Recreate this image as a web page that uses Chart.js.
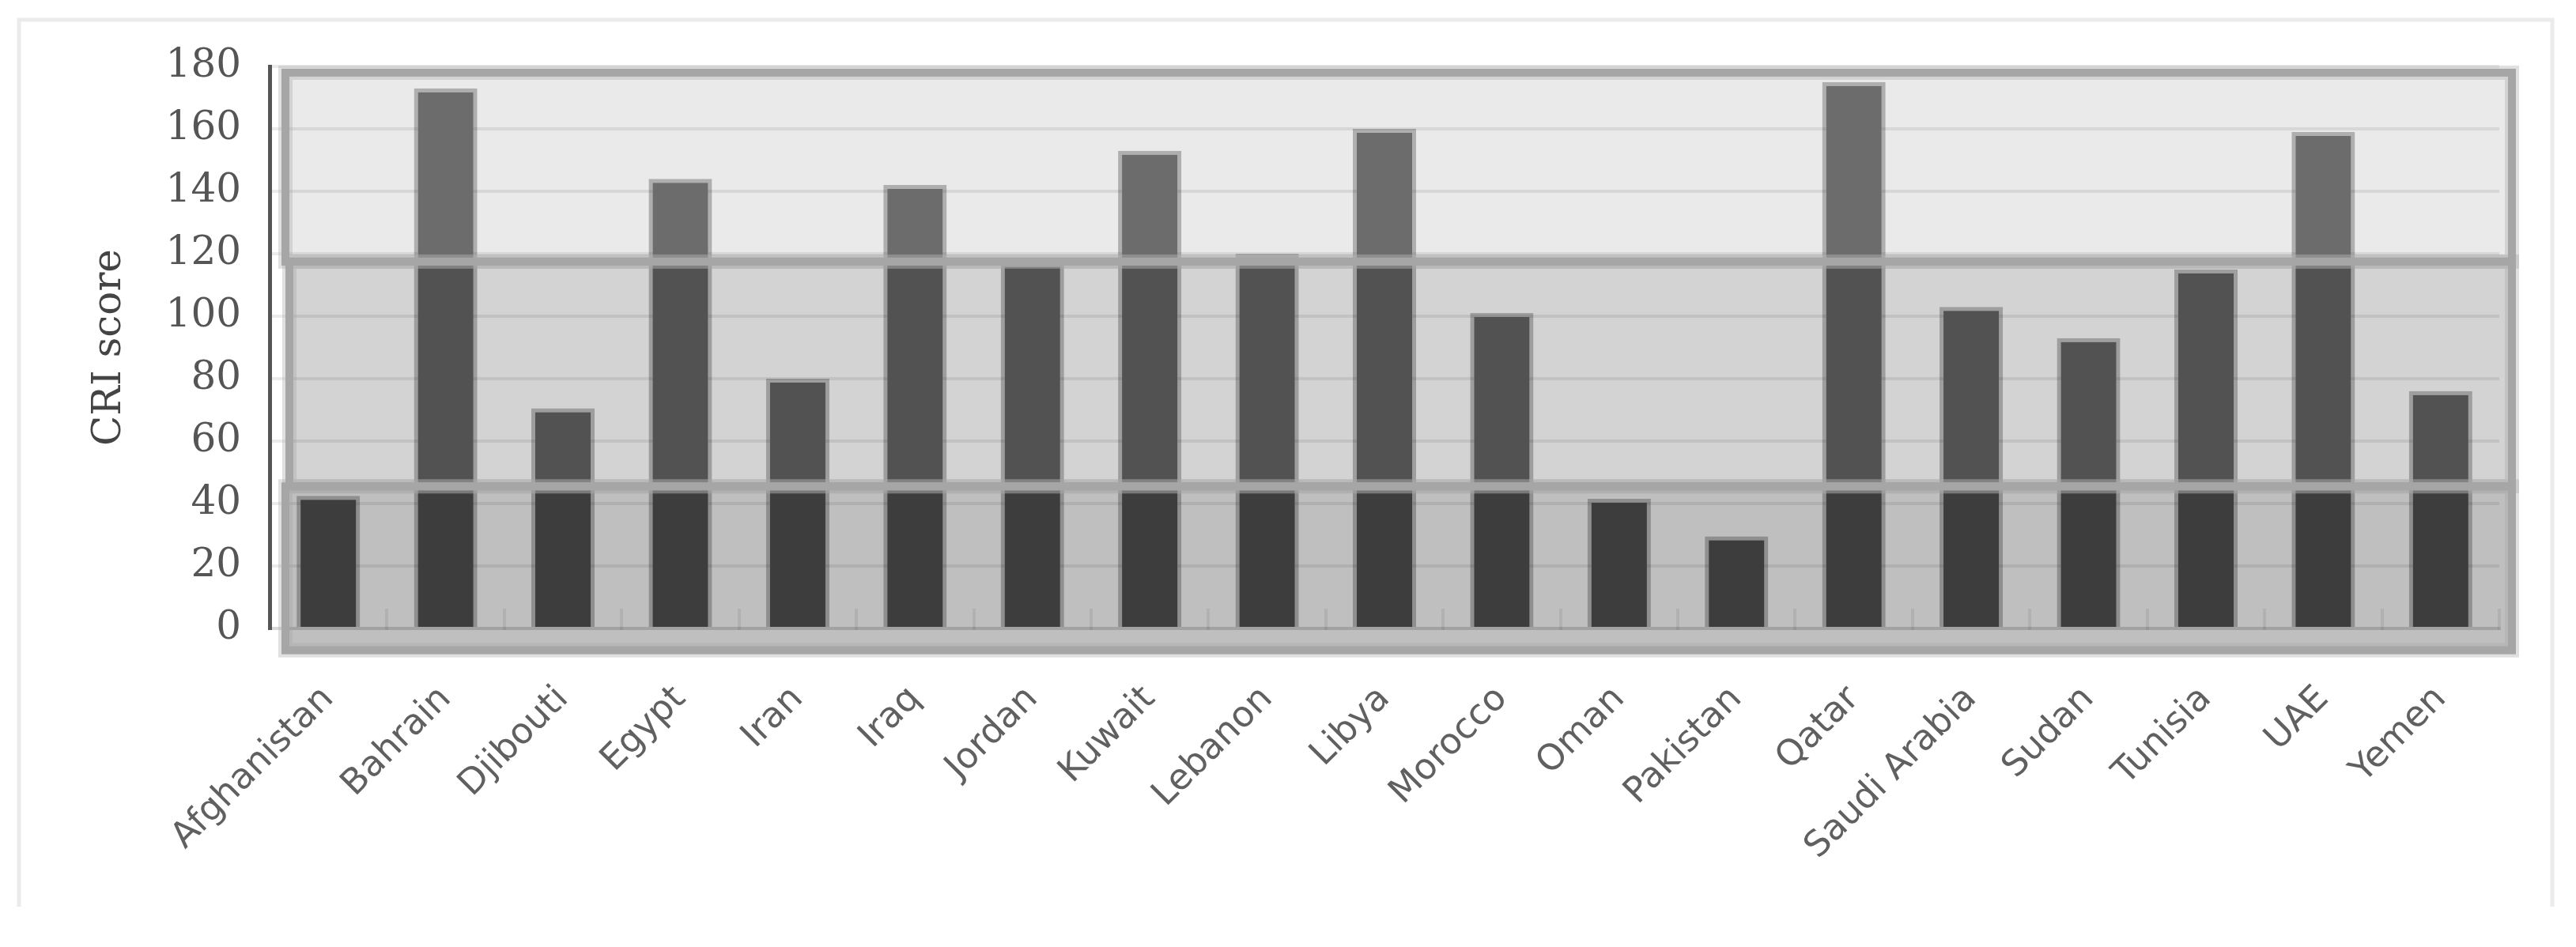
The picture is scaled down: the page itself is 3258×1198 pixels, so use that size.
<!DOCTYPE html>
<html>
<head>
<meta charset="utf-8">
<script src="https://cdn.jsdelivr.net/npm/chart.js@4/dist/chart.umd.min.js"></script>
<style>
  html, body { margin: 0; padding: 0; background: #fff; }
  canvas { display: block; }
</style>
</head>
<body>
<canvas id="cri" width="3258" height="1198"></canvas>
<script>
// Countries on the x axis
const countries = ["Afghanistan", "Bahrain", "Djibouti", "Egypt", "Iran", "Iraq", "Jordan",
  "Kuwait", "Lebanon", "Libya", "Morocco", "Oman", "Pakistan", "Qatar", "Saudi Arabia",
  "Sudan", "Tunisia", "UAE", "Yemen"];

// CRI score per country
const criScores = [42.5, 173, 70.5, 144, 80, 142, 117, 153, 120, 160, 101, 41.5, 29.5, 175, 103, 93, 115, 159, 76];

// y axis
const yMin = 0;
const yMax = 180;
const yStep = 20;

// shaded boxes behind the bars, as CRI values (bottom, low/mid, mid/high, top)
const bandEdges = [-7, 45.5, 117.5, 178];

// styling
const bandFill = ["#bfbfbf", "#d3d3d3", "#eaeaea"];
const barFill = ["#3d3d3d", "#525252", "#6c6c6c"];
const bandStroke = "#a6a6a6";

// fill each bar with hard colour steps at the band edges
function barGradient(context) {
  const chart = context.chart;
  const y = chart.scales.y;
  if (!chart.chartArea || !y) return barFill[0];
  const top = y.getPixelForValue(bandEdges[3]);
  const bottom = y.getPixelForValue(bandEdges[0]);
  const g = chart.ctx.createLinearGradient(0, top, 0, bottom);
  const f1 = (y.getPixelForValue(bandEdges[2]) - top) / (bottom - top);
  const f2 = (y.getPixelForValue(bandEdges[1]) - top) / (bottom - top);
  g.addColorStop(0, barFill[2]);
  g.addColorStop(f1, barFill[2]);
  g.addColorStop(f1, barFill[1]);
  g.addColorStop(f2, barFill[1]);
  g.addColorStop(f2, barFill[0]);
  g.addColorStop(1, barFill[0]);
  return g;
}

function bandRects(chart) {
  const y = chart.scales.y;
  const a = chart.chartArea;
  const px = bandEdges.map(v => y.getPixelForValue(v));
  const right = a.right + 16;
  return [
    { x0: a.left + 20, x1: right, y0: px[1], y1: px[0] },
    { x0: a.left + 25, x1: right, y0: px[2], y1: px[1] },
    { x0: a.left + 20, x1: right, y0: px[3], y1: px[2] }
  ];
}

const bandsPlugin = {
  id: "bands",
  beforeDraw(chart) {
    const ctx = chart.ctx;
    ctx.save();
    // thin outer frame
    ctx.strokeStyle = "#ebebeb";
    ctx.lineWidth = 5;
    ctx.beginPath();
    ctx.moveTo(24, 1147);
    ctx.lineTo(24, 25);
    ctx.lineTo(3228, 25);
    ctx.lineTo(3228, 1147);
    ctx.stroke();
    // band fills
    bandRects(chart).forEach((r, i) => {
      ctx.fillStyle = bandFill[i];
      ctx.fillRect(r.x0, r.y0, r.x1 - r.x0, r.y1 - r.y0);
    });
    ctx.restore();
  },
  afterDatasetsDraw(chart) {
    const ctx = chart.ctx;
    ctx.save();
    bandRects(chart).forEach(r => {
      ctx.strokeStyle = "rgba(166,166,166,0.35)";
      ctx.lineWidth = 18;
      ctx.strokeRect(r.x0, r.y0, r.x1 - r.x0, r.y1 - r.y0);
    });
    bandRects(chart).forEach(r => {
      ctx.strokeStyle = bandStroke;
      ctx.lineWidth = 10;
      ctx.strokeRect(r.x0, r.y0, r.x1 - r.x0, r.y1 - r.y0);
    });
    ctx.restore();
  }
};

new Chart(document.getElementById("cri"), {
  type: "bar",
  data: {
    labels: countries,
    datasets: [{
      data: criScores,
      backgroundColor: barGradient,
      borderColor: "rgba(0,0,0,0.25)",
      borderWidth: { left: 5, right: 5, top: 5, bottom: 0 },
      borderSkipped: "start",
      categoryPercentage: 1,
      barPercentage: 0.54
    }]
  },
  options: {
    responsive: false,
    animation: false,
    devicePixelRatio: 1,
    layout: { padding: { left: 105, top: 84, right: 97, bottom: 0 } },
    plugins: {
      legend: { display: false },
      tooltip: { enabled: false },
      title: { display: false }
    },
    scales: {
      x: {
        offset: true,
        grid: {
          display: true,
          offset: true,
          drawOnChartArea: false,
          drawTicks: true,
          tickLength: -25,
          color: "rgba(0,0,0,0.07)",
          lineWidth: 4
        },
        border: { display: true, color: "rgba(0,0,0,0.08)", width: 4 },
        ticks: {
          autoSkip: false,
          minRotation: 45,
          maxRotation: 45,
          padding: 88,
          color: "#606060",
          font: { family: "DejaVu Sans", size: 45 }
        },
        afterFit(scale) { scale.height = 403; }
      },
      y: {
        min: yMin,
        max: yMax,
        grid: {
          color: "rgba(0,0,0,0.08)",
          lineWidth: 4,
          drawTicks: false
        },
        border: { display: true, color: "#555555", width: 5 },
        ticks: {
          stepSize: yStep,
          padding: 36,
          color: "#555555",
          font: { family: "DejaVu Serif", size: 50 }
        },
        title: {
          display: true,
          text: "CRI score",
          color: "#444444",
          padding: { top: 4, bottom: 4 },
          font: { family: "DejaVu Serif", size: 50 }
        },
        afterFit(scale) { scale.width = 236; }
      }
    }
  },
  plugins: [bandsPlugin]
});
</script>
</body>
</html>
